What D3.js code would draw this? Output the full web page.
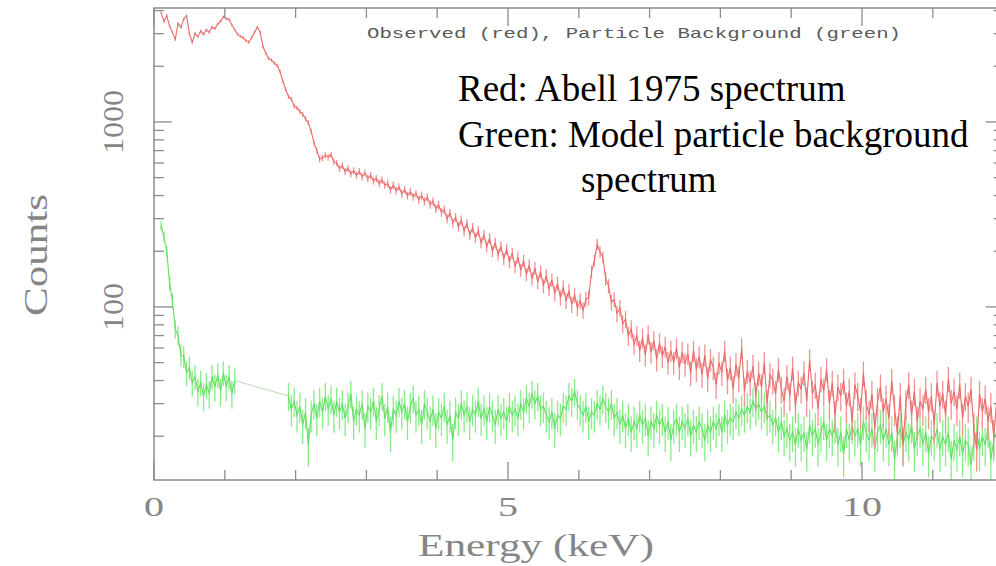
<!DOCTYPE html>
<html>
<head>
<meta charset="utf-8">
<script src="https://cdn.jsdelivr.net/npm/d3@7"></script>
<style>
  body { margin: 0; background: #fff; }
  svg { display: block; }
</style>
</head>
<body>
<svg id="chart" width="996" height="566"></svg>
<script>
// Spectrum channels: regular energy grid (keV)
const channelStart = 0.10;
const channelWidth = 0.04;

// Observed counts per channel (Abell 1975)
const observedCounts = [
  3900,3500,3750,3300,3050,2800,3400,3250,3600,3750,
  3000,2700,3000,2900,3100,2980,3150,3050,3250,3200,
  3380,3500,3700,3620,3580,3350,3150,2980,2900,2850,
  2750,2700,2850,3050,3250,3050,2550,2350,2200,2160,
  2080,2020,1870,1660,1500,1370,1330,1220,1190,1140,
  1100,1040,990,890,770,700,630,640,660,645,
  665,610,600,560,580,540,560,525,545,515,
  540,505,530,495,515,480,495,465,485,455,
  465,430,455,425,445,410,430,400,420,395,
  410,380,400,372,392,358,372,340,355,325,
  335,300,322,285,305,272,295,258,282,245,
  268,236,258,222,245,212,235,200,222,192,
  212,182,205,175,195,165,186,158,178,150,
  168,142,162,136,155,130,148,125,140,118,
  134,112,128,108,122,103,116,99,108,96,
  110,112,155,178,218,198,186,142,130,106,
  110,92,99,81,86,70,76,63,70,58,
  68,55,71,57,66,52,64,54,61,50,
  58,50,60,47,57,49,56,44,58,46,
  54,43,55,41,52,47,38,50,44,58,
  40,47,36,49,41,60,35,45,39,48,
  33,44,37,50,30,43,40,34,46,36,
  31,42,33,47,29,39,36,44,31,52,
  34,38,28,41,35,46,30,39,26,37,
  33,40,29,35,24,38,33,27,44,30,
  26,34,22,31,37,27,32,25,40,28,
  21,33,18,30,38,26,35,24,31,28,
  36,27,33,23,39,29,34,26,41,30,
  35,28,38,25,33,29,36,22,17,34,
  27,32,24,29,20,30,16,31
];

// Model particle background counts per channel (null = channels not modelled)
const backgroundCounts = [
  275,240,200,135,108,76,70,55,54,44,
  47,39,42,35,39,33,38,34,42,37,
  43,35,44,37,42,34,40,
  null,null,null,null,null,null,null,null,null,
  null,null,null,null,null,null,null,null,null,
  33,28,31,26,29,23,27,18,26,30,
  25,31,27,33,28,32,26,31,27,30,
  25,29,34,24,28,26,30,22,29,27,
  31,24,28,33,25,29,21,28,26,31,
  27,30,24,29,32,26,28,23,30,27,
  24,28,22,27,25,29,23,26,19,27,
  25,30,26,29,24,28,26,31,25,28,
  24,29,26,23,28,25,27,24,29,26,
  28,25,30,27,32,29,34,30,33,28,
  29,26,24,27,22,26,25,29,28,33,
  31,35,30,28,26,29,24,27,26,30,
  28,32,29,27,30,25,27,23,26,22,
  25,21,24,22,26,23,25,20,24,22,
  26,23,25,21,24,19,23,25,21,24,
  22,25,20,23,21,24,22,19,23,21,
  24,22,25,21,26,23,25,24,27,25,
  28,26,29,27,31,28,30,27,29,25,
  26,23,25,21,24,20,22,19,21,18,
  22,19,21,17,23,20,22,18,21,24,
  19,22,20,23,18,21,16,22,19,23,
  20,22,18,24,21,19,22,17,21,23,
  19,22,18,21,15,20,22,18,21,19,
  23,17,20,22,18,21,16,20,19,22,
  17,20,18,21,15,19,17,20,16,19,
  18,14,19,21,17,20,18,22,15,19,21,16,18
];

const energyDomain = [0, 12];
const countDomain = [11.6, 4130];
const xMajorTicks = [0, 5, 10];
const yMajorTicks = [100, 1000];
const xLabel = "Energy (keV)";
const yLabel = "Counts";
const plotTitle = "Observed (red), Particle Background (green)";
const noteLines = ["Red: Abell 1975 spectrum", "Green: Model particle background", "spectrum"];

const svg = d3.select("#chart");
const plotLeft = 154, plotRight = 1003.6, plotTop = 8, plotBottom = 480;
const axisColor = "#8c8c8c";
const labelColor = "#858585";

const x = d3.scaleLinear().domain(energyDomain).range([plotLeft, plotRight]);
const y = d3.scaleLog().domain(countDomain).range([plotBottom, plotTop]);

const toPoints = arr => arr.map((v, i) => ({ e: channelStart + i * channelWidth, v }));
const observed = toPoints(observedCounts);
const background = toPoints(backgroundCounts);

svg.append("defs").append("clipPath").attr("id", "plotClip")
  .append("rect").attr("x", plotLeft).attr("y", plotTop)
  .attr("width", plotRight - plotLeft).attr("height", plotBottom - plotTop);

const line = d3.line().defined(d => d.v != null).x(d => x(d.e)).y(d => y(d.v));
const plot = svg.append("g").attr("clip-path", "url(#plotClip)");

// draws one spectrum: Poisson (sqrt N) error bars plus the channel-to-channel line
function drawSpectrum(points, barColor, lineColor) {
  const g = plot.append("g");
  g.selectAll("line").data(points.filter(d => d.v != null)).join("line")
    .attr("x1", d => x(d.e)).attr("x2", d => x(d.e))
    .attr("y1", d => y(d.v + Math.sqrt(d.v)))
    .attr("y2", d => y(Math.max(d.v - Math.sqrt(d.v), countDomain[0] * 0.8)))
    .attr("stroke", barColor).attr("stroke-width", 1.3);
  g.append("path").datum(points).attr("d", line)
    .attr("fill", "none").attr("stroke", lineColor).attr("stroke-width", 1.1);
}

// thin connector across the unmodelled background channels
const gapPairs = [];
for (let i = 1; i < background.length; i++) {
  if (background[i].v != null && background[i - 1].v == null) {
    let j = i - 1;
    while (j >= 0 && background[j].v == null) j--;
    if (j >= 0) gapPairs.push([background[j], background[i]]);
  }
}
plot.selectAll("path.gap").data(gapPairs).join("path").attr("class", "gap")
  .attr("d", d3.line().x(d => x(d.e)).y(d => y(d.v)))
  .attr("fill", "none").attr("stroke", "#b2d8a4").attr("stroke-width", 0.9);

drawSpectrum(background, "#86ec86", "#62de62");
drawSpectrum(observed, "#f49090", "#e86a6a");

// frame
svg.append("rect").attr("x", plotLeft).attr("y", plotTop)
  .attr("width", plotRight - plotLeft).attr("height", plotBottom - plotTop)
  .attr("fill", "none").attr("stroke", axisColor).attr("stroke-width", 1.5);

// tick marks on all four sides
const xMinor = d3.range(energyDomain[0], energyDomain[1] + 1, 1);
const yMinor = y.ticks().filter(v => v >= countDomain[0] && v <= countDomain[1]);
const ticks = svg.append("g").attr("stroke", axisColor).attr("stroke-width", 1.3);
xMinor.forEach(v => {
  const L = xMajorTicks.includes(v) ? 18 : 10;
  ticks.append("line").attr("x1", x(v)).attr("x2", x(v)).attr("y1", plotBottom).attr("y2", plotBottom - L);
  ticks.append("line").attr("x1", x(v)).attr("x2", x(v)).attr("y1", plotTop).attr("y2", plotTop + L);
});
yMinor.forEach(v => {
  const L = yMajorTicks.includes(v) ? 18 : 10;
  ticks.append("line").attr("x1", plotLeft).attr("x2", plotLeft + L).attr("y1", y(v)).attr("y2", y(v));
  ticks.append("line").attr("x1", plotRight).attr("x2", plotRight - L).attr("y1", y(v)).attr("y2", y(v));
});

// tick labels
const labelFont = "'Liberation Serif', 'DejaVu Serif', serif";
svg.append("g").selectAll("text").data(xMajorTicks).join("text")
  .attr("x", d => x(d)).attr("y", 516)
  .attr("text-anchor", "middle").attr("font-family", labelFont)
  .attr("font-size", 28).attr("fill", labelColor)
  .attr("textLength", d => String(d).length * 20).attr("lengthAdjust", "spacingAndGlyphs")
  .text(d => d);
svg.append("g").selectAll("text").data(yMajorTicks).join("text")
  .attr("transform", d => `translate(123,${y(d)}) rotate(-90)`)
  .attr("text-anchor", "middle").attr("font-family", labelFont)
  .attr("font-size", 30).attr("fill", labelColor)
  .attr("textLength", d => String(d).length * 16).attr("lengthAdjust", "spacingAndGlyphs")
  .text(d => d);

// axis titles
svg.append("text").attr("x", 536).attr("y", 556).attr("text-anchor", "middle")
  .attr("font-family", labelFont).attr("font-size", 32).attr("fill", labelColor)
  .attr("textLength", 236).attr("lengthAdjust", "spacingAndGlyphs").text(xLabel);
svg.append("text").attr("transform", "translate(47,255) rotate(-90)")
  .attr("text-anchor", "middle").attr("font-family", labelFont)
  .attr("font-size", 34).attr("fill", labelColor)
  .attr("textLength", 122).attr("lengthAdjust", "spacingAndGlyphs").text(yLabel);

// plot title inside the frame
svg.append("text").attr("x", 367).attr("y", 38)
  .attr("font-family", "'Liberation Mono', monospace").attr("font-size", 15).attr("fill", "#5a5a5a")
  .attr("textLength", 534).attr("lengthAdjust", "spacingAndGlyphs").text(plotTitle);

// annotation
const note = svg.append("g").attr("font-family", "'Liberation Serif', 'Times New Roman', serif")
  .attr("font-size", 37).attr("fill", "#000");
note.append("text").attr("x", 458).attr("y", 101).text(noteLines[0]);
note.append("text").attr("x", 458).attr("y", 147).text(noteLines[1]);
note.append("text").attr("x", 581).attr("y", 192).text(noteLines[2]);
</script>
</body>
</html>
